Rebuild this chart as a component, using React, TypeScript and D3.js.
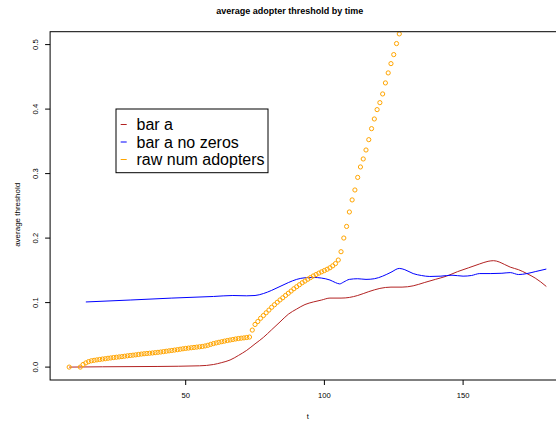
import React from "react";
import * as d3 from "d3";

// Figure text
const titleText = "average adopter threshold by time";
const xLabel = "t";
const yLabel = "average threshold";

// Axis ticks
const xTicks = [50, 100, 150];
const yTicks = [0.0, 0.1, 0.2, 0.3, 0.4, 0.5];
const yTickLabels = ["0.0", "0.1", "0.2", "0.3", "0.4", "0.5"];

// Legend entries
const legendLabels = ["bar a", "bar a no zeros", "raw num adopters"];
const legendColors = ["#B22222", "#0000FF", "#FFA500"];

// Series: bar a (smoothed)
const barAT = [8, 20, 40, 55, 60, 63, 66, 69, 72, 75, 78, 81, 84, 87, 90, 93, 96, 99, 102, 106, 109, 112, 116, 120, 124, 128, 132, 136, 140, 144, 148, 152, 156, 159, 161, 163, 165, 167, 170, 173, 176, 178, 180];
const barAV = [0.0, 0.0005, 0.001, 0.002, 0.004, 0.007, 0.011, 0.018, 0.026, 0.036, 0.046, 0.058, 0.07, 0.082, 0.09, 0.097, 0.101, 0.104, 0.107, 0.107, 0.108, 0.111, 0.117, 0.122, 0.124, 0.124, 0.126, 0.131, 0.136, 0.141, 0.148, 0.154, 0.16, 0.164, 0.165, 0.163, 0.159, 0.155, 0.151, 0.145, 0.138, 0.132, 0.125];

// Series: bar a no zeros (smoothed)
const barNZT = [14, 30, 45, 60, 67, 72, 75, 78, 81, 84, 87, 90, 93, 96, 99, 102, 104, 105.5, 107, 109, 112, 115, 118, 121, 124, 127, 129, 132, 135, 138, 142, 146, 150, 153, 156, 160, 164, 167, 170, 173, 176, 180];
const barNZV = [0.101, 0.104, 0.107, 0.1095, 0.111, 0.1105, 0.111, 0.114, 0.119, 0.125, 0.131, 0.136, 0.1385, 0.139, 0.138, 0.135, 0.131, 0.129, 0.132, 0.136, 0.137, 0.136, 0.137, 0.141, 0.147, 0.153, 0.151, 0.145, 0.142, 0.1405, 0.141, 0.1425, 0.141, 0.142, 0.145, 0.145, 0.1455, 0.1465, 0.1435, 0.145, 0.148, 0.152];

// Series: raw num adopters (points)
const rawT = [
  8, 12, 13, 14, 15, 16, 17, 18, 19, 20, 21, 22, 23, 24, 25, 26, 27, 28, 29, 30,
  31, 32, 33, 34, 35, 36, 37, 38, 39, 40, 41, 42, 43, 44, 45, 46, 47, 48, 49, 50,
  51, 52, 53, 54, 55, 56, 57, 58, 59, 60, 61, 62, 63, 64, 65, 66, 67, 68, 69, 70,
  71, 72, 73, 74, 75, 76, 77, 78, 79, 80, 81, 82, 83, 84, 85, 86, 87, 88, 89, 90,
  91, 92, 93, 94, 95, 96, 97, 98, 99, 100, 101, 102, 103, 104, 105, 106, 107, 108, 109, 110,
  111, 112, 113, 114, 115, 116, 117, 118, 119, 120, 121, 122, 123, 124, 125, 126, 127,
];
const rawV = [
  0.0, 0.0, 0.004, 0.0065, 0.0085, 0.0098, 0.0105, 0.0112, 0.0118, 0.0125, 0.013, 0.0137, 0.0142, 0.0148, 0.0153, 0.0158, 0.0163, 0.0169, 0.0175, 0.018,
  0.0185, 0.019, 0.0196, 0.0202, 0.0207, 0.0211, 0.0215, 0.0219, 0.0224, 0.0229, 0.0234, 0.024, 0.0246, 0.0252, 0.0258, 0.0264, 0.027, 0.0277, 0.0284, 0.029,
  0.0295, 0.03, 0.0305, 0.031, 0.0315, 0.032, 0.0328, 0.0338, 0.0352, 0.0365, 0.0375, 0.0385, 0.0394, 0.0403, 0.0412, 0.042, 0.0428, 0.0436, 0.0443, 0.0448,
  0.0453, 0.0459, 0.0466, 0.0574, 0.0661, 0.0707, 0.0757, 0.0799, 0.0842, 0.0884, 0.0928, 0.0967, 0.1005, 0.1041, 0.1075, 0.1111, 0.1145, 0.1179, 0.1215, 0.1246,
  0.1277, 0.1308, 0.1334, 0.1362, 0.1388, 0.1413, 0.1435, 0.1457, 0.1477, 0.1497, 0.1517, 0.154, 0.157, 0.1605, 0.166, 0.1789, 0.2001, 0.2181, 0.2405, 0.2592,
  0.2746, 0.2941, 0.3103, 0.3227, 0.3366, 0.3526, 0.3697, 0.3847, 0.3992, 0.41, 0.4235, 0.4406, 0.4561, 0.4705, 0.4845, 0.5016, 0.5166,
];

const W = 556;
const H = 421;
const FONT = "'Liberation Sans', Arial, Helvetica, sans-serif";

// Plot region (extends past the right edge of the figure)
const plotLeft = 50.1;
const plotRight = 565.4;
const plotTop = 31.7;
const plotBottom = 380;

export default function App() {
  const x = d3.scaleLinear().domain([1.12, 186.88]).range([plotLeft, plotRight]);
  const y = d3.scaleLinear().domain([-0.02, 0.52]).range([plotBottom, plotTop]);

  const line = d3
    .line<[number, number]>()
    .x((d) => x(d[0]))
    .y((d) => y(d[1]))
    .curve(d3.curveMonotoneX);

  const barA = barAT.map((t, i) => [t, barAV[i]] as [number, number]);
  const barNZ = barNZT.map((t, i) => [t, barNZV[i]] as [number, number]);
  const raw = rawT.map((t, i) => [t, rawV[i]] as [number, number]);

  const tickLen = 5;

  return (
    <div style={{ position: "fixed", left: 0, top: 0, width: W, height: H, background: "#fff" }}>
      <svg width={W} height={H} style={{ display: "block" }} fontFamily={FONT}>
        <defs>
          <clipPath id="plotClip">
            <rect x={plotLeft} y={plotTop} width={plotRight - plotLeft} height={plotBottom - plotTop} />
          </clipPath>
        </defs>
        <rect x={0} y={0} width={W} height={H} fill="#fff" />

        {/* title */}
        <text x={289.7} y={14.2} textAnchor="middle" fontSize={9} fontWeight="bold" fill="#000">
          {titleText}
        </text>

        {/* data */}
        <g clipPath="url(#plotClip)">
          <path d={line(barA) ?? ""} fill="none" stroke={legendColors[0]} strokeWidth={1} />
          <path d={line(barNZ) ?? ""} fill="none" stroke={legendColors[1]} strokeWidth={1} />
          {raw.map((d, i) => (
            <circle
              key={i}
              cx={x(d[0])}
              cy={y(d[1])}
              r={2.1}
              fill="none"
              stroke={legendColors[2]}
              strokeWidth={1}
            />
          ))}
        </g>

        {/* box */}
        <rect
          x={plotLeft}
          y={plotTop}
          width={plotRight - plotLeft}
          height={plotBottom - plotTop}
          fill="none"
          stroke="#000"
          strokeWidth={1}
        />

        {/* x axis */}
        {xTicks.map((t) => (
          <g key={t}>
            <line x1={x(t)} x2={x(t)} y1={plotBottom} y2={plotBottom + tickLen} stroke="#000" strokeWidth={1} />
            <text x={x(t)} y={398} textAnchor="middle" fontSize={7.6} fill="#000">
              {String(t)}
            </text>
          </g>
        ))}
        <text x={(plotLeft + plotRight) / 2} y={418.5} textAnchor="middle" fontSize={7.6} fill="#000">
          {xLabel}
        </text>

        {/* y axis */}
        {yTicks.map((v, i) => (
          <g key={v}>
            <line x1={plotLeft - tickLen} x2={plotLeft} y1={y(v)} y2={y(v)} stroke="#000" strokeWidth={1} />
            <text
              transform={`translate(${38.2},${y(v)}) rotate(-90)`}
              textAnchor="middle"
              fontSize={7.6}
              fill="#000"
            >
              {yTickLabels[i]}
            </text>
          </g>
        ))}
        <text
          transform={`translate(${20},${(plotTop + plotBottom) / 2 + 9}) rotate(-90)`}
          textAnchor="middle"
          fontSize={8}
          fill="#000"
        >
          {yLabel}
        </text>

        {/* legend */}
        <g>
          <rect x={116} y={109} width={152} height={63.7} fill="#fff" stroke="#000" strokeWidth={1} />
          {legendLabels.map((lab, i) => {
            const cy = 124.5 + i * 17.5;
            return (
              <g key={lab}>
                <line x1={120.7} x2={126.7} y1={cy} y2={cy} stroke={legendColors[i]} strokeWidth={1} />
                <text x={136.5} y={cy + 5.5} fontSize={16} fill="#000">
                  {lab}
                </text>
              </g>
            );
          })}
        </g>
      </svg>
    </div>
  );
}
